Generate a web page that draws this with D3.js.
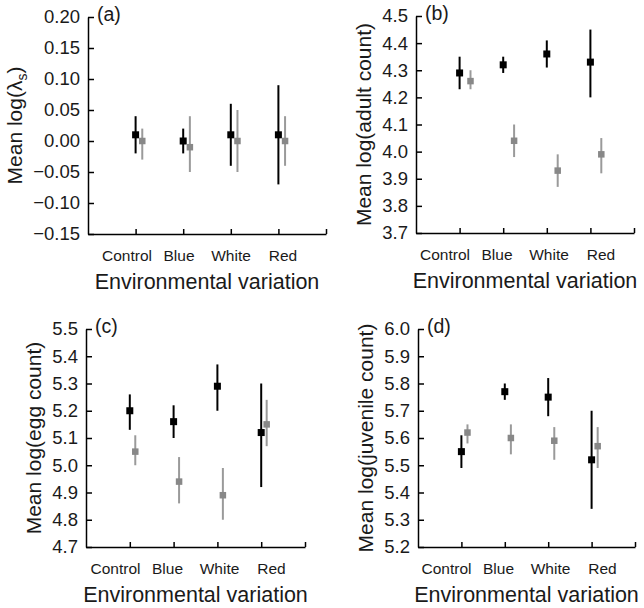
<!DOCTYPE html>
<html>
<head>
<meta charset="utf-8">
<script src="https://cdn.jsdelivr.net/npm/d3@7"></script>
<style>
  html, body { margin: 0; padding: 0; background: #fff; }
  svg { display: block; }
  text { font-family: "Liberation Sans", Arial, Helvetica, sans-serif; fill: #1a1a1a; }
</style>
</head>
<body>
<svg id="chart" width="644" height="608"></svg>
<script>
// ---------------- data ----------------
const categories = ["Control", "Blue", "White", "Red"];
const xLabel = "Environmental variation";

// panel (a) Mean log(lambda_s)
const aTicks = [-0.15, -0.10, -0.05, 0.00, 0.05, 0.10, 0.15, 0.20];
const aBlackMean = [0.01, 0.00, 0.01, 0.01];
const aBlackLo   = [-0.02, -0.02, -0.04, -0.07];
const aBlackHi   = [0.04, 0.02, 0.06, 0.09];
const aGreyMean  = [0.00, -0.01, 0.00, 0.00];
const aGreyLo    = [-0.03, -0.05, -0.05, -0.04];
const aGreyHi    = [0.02, 0.04, 0.05, 0.04];

// panel (b) Mean log(adult count)
const bTicks = [3.7, 3.8, 3.9, 4.0, 4.1, 4.2, 4.3, 4.4, 4.5];
const bBlackMean = [4.29, 4.32, 4.36, 4.33];
const bBlackLo   = [4.23, 4.29, 4.31, 4.20];
const bBlackHi   = [4.35, 4.35, 4.41, 4.45];
const bGreyMean  = [4.26, 4.04, 3.93, 3.99];
const bGreyLo    = [4.23, 3.98, 3.87, 3.92];
const bGreyHi    = [4.30, 4.10, 3.99, 4.05];

// panel (c) Mean log(egg count)
const cTicks = [4.7, 4.8, 4.9, 5.0, 5.1, 5.2, 5.3, 5.4, 5.5];
const cBlackMean = [5.20, 5.16, 5.29, 5.12];
const cBlackLo   = [5.13, 5.10, 5.20, 4.92];
const cBlackHi   = [5.26, 5.22, 5.37, 5.30];
const cGreyMean  = [5.05, 4.94, 4.89, 5.15];
const cGreyLo    = [5.00, 4.86, 4.80, 5.07];
const cGreyHi    = [5.11, 5.03, 4.99, 5.24];

// panel (d) Mean log(juvenile count)
const dTicks = [5.2, 5.3, 5.4, 5.5, 5.6, 5.7, 5.8, 5.9, 6.0];
const dBlackMean = [5.55, 5.77, 5.75, 5.52];
const dBlackLo   = [5.49, 5.74, 5.68, 5.34];
const dBlackHi   = [5.61, 5.80, 5.82, 5.70];
const dGreyMean  = [5.62, 5.60, 5.59, 5.57];
const dGreyLo    = [5.58, 5.54, 5.52, 5.49];
const dGreyHi    = [5.65, 5.65, 5.64, 5.64];

// ---------------- layout ----------------
const panels = [
  { letter: "(a)", yLab: ["Mean log(", "λ", "s", ")"], ticks: aTicks, fmt: ".2f",
    bm: aBlackMean, bl: aBlackLo, bh: aBlackHi, gm: aGreyMean, gl: aGreyLo, gh: aGreyHi,
    x0: 88, x1: 326, y0: 17, y1: 234, gdx: 0.14 },
  { letter: "(b)", yLab: ["Mean log(adult count)"], ticks: bTicks, fmt: ".1f",
    bm: bBlackMean, bl: bBlackLo, bh: bBlackHi, gm: bGreyMean, gl: bGreyLo, gh: bGreyHi,
    x0: 416, x1: 634, y0: 16, y1: 233, gdx: 0.25 },
  { letter: "(c)", yLab: ["Mean log(egg count)"], ticks: cTicks, fmt: ".1f",
    bm: cBlackMean, bl: cBlackLo, bh: cBlackHi, gm: cGreyMean, gl: cGreyLo, gh: cGreyHi,
    x0: 86, x1: 305, y0: 329, y1: 547, gdx: 0.125 },
  { letter: "(d)", yLab: ["Mean log(juvenile count)"], ticks: dTicks, fmt: ".1f",
    bm: dBlackMean, bl: dBlackLo, bh: dBlackHi, gm: dGreyMean, gl: dGreyLo, gh: dGreyHi,
    x0: 418, x1: 635, y0: 329, y1: 547, gdx: 0.14 }
];

const svg = d3.select("#chart");
const BLACK = "#000";
const GREY_LINE = "#9a9a9a";
const GREY_MARK = "#888";

panels.forEach(p => {
  const g = svg.append("g");
  const x = d3.scaleLinear().domain([0, categories.length + 1]).range([p.x0, p.x1]);
  const y = d3.scaleLinear().domain([p.ticks[0], p.ticks[p.ticks.length - 1]]).range([p.y1, p.y0]);
  const fmt = d3.format(p.fmt);

  // x axis (ticks inward)
  const xAxis = d3.axisBottom(x)
    .tickValues(d3.range(1, categories.length + 2))
    .tickFormat("")
    .tickSizeInner(-5).tickSizeOuter(0);
  const gx = g.append("g").attr("transform", `translate(0,${p.y1})`).call(xAxis);
  gx.selectAll("path.domain").attr("stroke", BLACK).attr("stroke-width", 1.5);
  gx.selectAll(".tick line").attr("stroke", BLACK).attr("stroke-width", 1.5);

  // y axis (ticks inward)
  const yAxis = d3.axisLeft(y)
    .tickValues(p.ticks)
    .tickFormat(d => fmt(d).replace("-", "\u2212"))
    .tickSizeInner(-6).tickSizeOuter(0).tickPadding(8);
  const gy = g.append("g").attr("transform", `translate(${p.x0},0)`).call(yAxis);
  gy.selectAll("path.domain").attr("stroke", BLACK).attr("stroke-width", 1.5);
  gy.selectAll(".tick line").attr("stroke", BLACK).attr("stroke-width", 1.5);
  gy.selectAll(".tick text")
    .attr("font-size", 18.5)
    .attr("font-family", "'Liberation Sans', Arial, sans-serif")
    .attr("fill", "#1a1a1a");

  // category labels
  const cx = (p.x0 + p.x1) / 2 - 2;
  const xl = d3.scalePoint().domain(categories).range([cx - 78, cx + 78]);
  g.append("g").selectAll("text").data(categories).join("text")
    .attr("x", d => xl(d))
    .attr("y", p.y1 + 27)
    .attr("text-anchor", "middle")
    .attr("font-size", 15.5)
    .text(d => d);

  // x axis title
  g.append("text")
    .attr("x", (p.x0 + p.x1) / 2)
    .attr("y", p.y1 + 55)
    .attr("text-anchor", "middle")
    .attr("font-size", 21.5)
    .text(xLabel);

  // y axis title
  let maxW = 0;
  gy.selectAll(".tick text").each(function () { maxW = Math.max(maxW, this.getBBox().width); });
  const yl = g.append("text")
    .attr("transform", `translate(${p.x0 - 8 - maxW - 11},${(p.y0 + p.y1) / 2}) rotate(-90)`)
    .attr("text-anchor", "middle")
    .attr("font-size", 21);
  if (p.yLab.length > 1) {
    yl.append("tspan").text(p.yLab[0]);
    yl.append("tspan").text(p.yLab[1]);
    yl.append("tspan").attr("font-size", 14).attr("dy", 5).text(p.yLab[2]);
    yl.append("tspan").attr("dy", -5).text(p.yLab[3]);
  } else {
    yl.text(p.yLab[0]);
  }

  // panel letter
  g.append("text")
    .attr("x", p.x0 + 9)
    .attr("y", p.y0 + 4)
    .attr("font-size", 19.5)
    .text(p.letter);

  // series
  const series = [
    { m: p.bm, lo: p.bl, hi: p.bh, dx: 0, line: BLACK, mark: BLACK, size: 7 },
    { m: p.gm, lo: p.gl, hi: p.gh, dx: p.gdx, line: GREY_LINE, mark: GREY_MARK, size: 6.5 }
  ];
  series.forEach(s => {
    const pts = categories.map((c, i) => ({ i, m: s.m[i], lo: s.lo[i], hi: s.hi[i] }));
    const sg = g.append("g");
    sg.selectAll("line").data(pts).join("line")
      .attr("x1", d => x(d.i + 1 + s.dx))
      .attr("x2", d => x(d.i + 1 + s.dx))
      .attr("y1", d => y(d.lo))
      .attr("y2", d => y(d.hi))
      .attr("stroke", s.line)
      .attr("stroke-width", 2);
    sg.selectAll("rect").data(pts).join("rect")
      .attr("x", d => x(d.i + 1 + s.dx) - s.size / 2)
      .attr("y", d => y(d.m) - s.size / 2)
      .attr("width", s.size)
      .attr("height", s.size)
      .attr("fill", s.mark);
  });
});
</script>
</body>
</html>
